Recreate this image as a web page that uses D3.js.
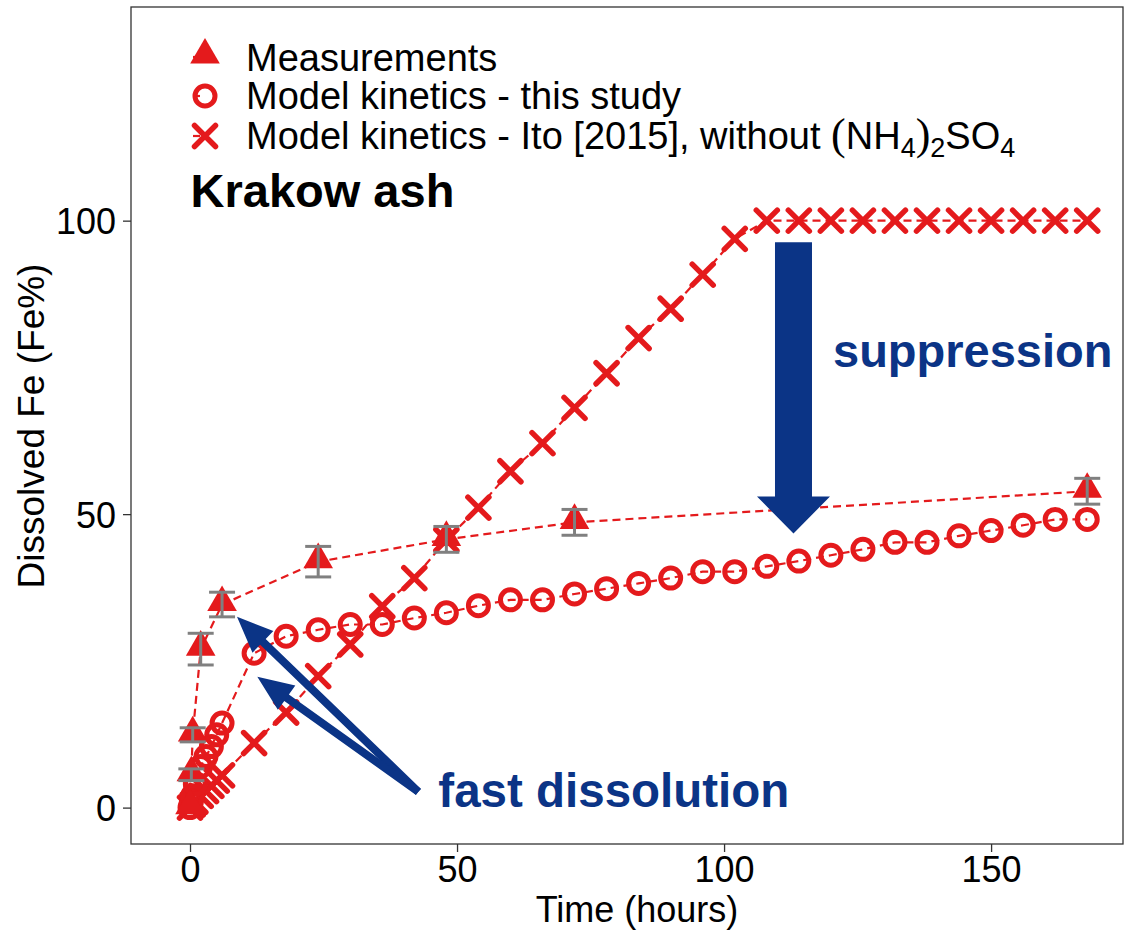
<!DOCTYPE html>
<html>
<head>
<meta charset="utf-8">
<script src="https://cdn.jsdelivr.net/npm/d3@7"></script>
<style>
  body { margin: 0; background: #fff; }
  text { font-family: "Liberation Sans", Arial, sans-serif; }
</style>
</head>
<body>
<div id="chart"></div>
<script>
// measurements (time in hours, dissolved Fe %, error)
var measTime = [0, 0.25, 0.5, 2, 6, 24, 48, 72, 168];
var measFe   = [0, 5.6, 12.4, 27, 34.6, 41.9, 45.7, 48.6, 53.9];
var measErr  = [0, 1.0, 1.2, 2.7, 2.1, 2.6, 2.2, 2.2, 2.2];

// model kinetics - this study
var modelTime = [0, 0.25, 0.5, 1, 2, 3, 4, 5, 6, 12, 18, 24, 30, 36, 42, 48, 54, 60, 66, 72, 78, 84, 90,
                 96, 102, 108, 114, 120, 126, 132, 138, 144, 150, 156, 162, 168];
var modelFe   = [0, 1, 2, 4, 7, 8.7, 10.4, 12.4, 14.4, 26.3, 29.2, 30.3, 31.2, 31.2, 32.3, 33.2, 34.4, 35.4, 35.4, 36.4,
                 37.3, 38.2, 39.1, 40.2, 40.2, 41.1, 42.0, 43.0, 44.0, 45.2, 45.2, 46.3, 47.2, 48.1, 49.1, 49.1];

// model kinetics - Ito [2015]
var itoTime = [0, 0.5, 1, 2, 3, 4, 5, 6, 12, 18, 24, 30, 36, 42, 48, 54, 60, 66, 72, 78, 84, 90, 96, 102,
               108, 114, 120, 126, 132, 138, 144, 150, 156, 162, 168];
var itoFe   = [0, 0.5, 1, 2, 2.8, 3.7, 4.6, 5.5, 11, 16.2, 22.4, 27.8, 34.3, 39.1, 45.6, 51.1, 57.3, 62.1, 68.1, 74, 80, 85, 90.8, 96.9,
               100, 100, 100, 100, 100, 100, 100, 100, 100, 100, 100];

var xTicks = [0, 50, 100, 150];
var yTicks = [0, 50, 100];

var red = "#e41a1c", navy = "#0b3486", grey = "#808080";
var W = 1124, H = 931;

var svg = d3.select("#chart").append("svg")
    .attr("width", W).attr("height", H);

// scales (domain chosen so the panel matches the original frame)
var x = d3.scaleLinear().domain([-11.05, 174.7]).range([131, 1123]);
var y = d3.scaleLinear().domain([-6.2, 136.4]).range([844, 7]);

var meas = measTime.map(function(t, i) { return {t: t, v: measFe[i], e: measErr[i]}; });
var model = modelTime.map(function(t, i) { return {t: t, v: modelFe[i]}; });
var ito = itoTime.map(function(t, i) { return {t: t, v: itoFe[i]}; });

var line = d3.line().x(function(d) { return x(d.t); }).y(function(d) { return y(d.v); });

// panel border
svg.append("rect")
    .attr("x", 131).attr("y", 7).attr("width", 992).attr("height", 837)
    .attr("fill", "none").attr("stroke", "#333").attr("stroke-width", 1.3);

// axes
var xAxis = svg.append("g").attr("transform", "translate(0,844)")
    .call(d3.axisBottom(x).tickValues(xTicks).tickSize(8).tickPadding(4));
var yAxis = svg.append("g").attr("transform", "translate(131,0)")
    .call(d3.axisLeft(y).tickValues(yTicks).tickSize(8).tickPadding(7));
[xAxis, yAxis].forEach(function(a) {
    a.select(".domain").remove();
    a.selectAll("line").attr("stroke", "#333").attr("stroke-width", 1.3);
    a.selectAll("text").attr("fill", "#000").style("font-size", "36px")
        .style("font-family", "'Liberation Sans', Arial, sans-serif");
});
xAxis.selectAll("text").attr("dy", "0.72em");
yAxis.selectAll("text").attr("dy", "0.36em");

svg.append("text")
    .attr("x", 637).attr("y", 922).attr("text-anchor", "middle")
    .style("font-size", "36px").text("Time (hours)");
svg.append("text")
    .attr("transform", "translate(44,426) rotate(-90)").attr("text-anchor", "middle")
    .style("font-size", "37px").text("Dissolved Fe (Fe%)");

// dashed lines
[ito, model, meas].forEach(function(data) {
    svg.append("path").datum(data)
        .attr("d", line)
        .attr("fill", "none").attr("stroke", red)
        .attr("stroke-width", 2.2).attr("stroke-dasharray", "8,5");
});

// Ito crosses
function crossPath(s) {
    return "M" + (-s) + "," + (-s) + "L" + s + "," + s + "M" + (-s) + "," + s + "L" + s + "," + (-s);
}
svg.append("g").selectAll("path").data(ito).enter().append("path")
    .attr("transform", function(d) { return "translate(" + x(d.t) + "," + y(d.v) + ")"; })
    .attr("d", crossPath(10.5))
    .attr("fill", "none").attr("stroke", red).attr("stroke-width", 5.5).attr("stroke-linecap", "round");

// model circles
svg.append("g").selectAll("circle").data(model).enter().append("circle")
    .attr("cx", function(d) { return x(d.t); }).attr("cy", function(d) { return y(d.v); })
    .attr("r", 10).attr("fill", "none").attr("stroke", red).attr("stroke-width", 5);

// measurement triangles
var tri = d3.symbol().type(d3.symbolTriangle).size(380);
svg.append("g").selectAll("path").data(meas).enter().append("path")
    .attr("transform", function(d) { return "translate(" + x(d.t) + "," + (y(d.v) - 2) + ")"; })
    .attr("d", tri).attr("fill", red);

// error bars
var eb = svg.append("g").selectAll("g").data(meas.filter(function(d) { return d.e > 0; }))
    .enter().append("g").attr("stroke", grey).attr("stroke-width", 3);
eb.append("line")
    .attr("x1", function(d) { return x(d.t); }).attr("x2", function(d) { return x(d.t); })
    .attr("y1", function(d) { return y(d.v - d.e); }).attr("y2", function(d) { return y(d.v + d.e); });
eb.append("line")
    .attr("x1", function(d) { return x(d.t) - 13; }).attr("x2", function(d) { return x(d.t) + 13; })
    .attr("y1", function(d) { return y(d.v + d.e); }).attr("y2", function(d) { return y(d.v + d.e); });
eb.append("line")
    .attr("x1", function(d) { return x(d.t) - 13; }).attr("x2", function(d) { return x(d.t) + 13; })
    .attr("y1", function(d) { return y(d.v - d.e); }).attr("y2", function(d) { return y(d.v - d.e); });

// arrows (thin "fast dissolution" arrows)
function arrowPoly(x0, y0, x1, y1, shaft, headW, headL) {
    var dx = x1 - x0, dy = y1 - y0, len = Math.sqrt(dx * dx + dy * dy);
    var ux = dx / len, uy = dy / len, px = -uy, py = ux;
    var bx = x1 - ux * headL, by = y1 - uy * headL;
    var pts = [
        [x0 + px * shaft / 2, y0 + py * shaft / 2],
        [bx + px * shaft / 2, by + py * shaft / 2],
        [bx + px * headW / 2, by + py * headW / 2],
        [x1, y1],
        [bx - px * headW / 2, by - py * headW / 2],
        [bx - px * shaft / 2, by - py * shaft / 2],
        [x0 - px * shaft / 2, y0 - py * shaft / 2]
    ];
    return pts.map(function(p) { return p.join(","); }).join(" ");
}
var fastTail = [42.75, 2.7], fastTips = [[8.8, 32.5], [12.6, 22.3]];
fastTips.forEach(function(tip) {
    svg.append("polygon")
        .attr("points", arrowPoly(x(fastTail[0]), y(fastTail[1]), x(tip[0]), y(tip[1]), 8, 30, 36))
        .attr("fill", navy);
});
// big suppression arrow
svg.append("polygon")
    .attr("points", arrowPoly(x(113), y(96.3), x(113), y(46.7), 37, 73, 37))
    .attr("fill", navy);

// annotations
svg.append("text").attr("x", x(120.4)).attr("y", y(75.1))
    .attr("fill", navy).style("font-size", "47px").style("font-weight", "bold").text("suppression");
svg.append("text").attr("x", x(46.5)).attr("y", y(0.1))
    .attr("fill", navy).style("font-size", "47.5px").style("font-weight", "bold").text("fast dissolution");
svg.append("text").attr("x", x(0.1)).attr("y", y(102.4))
    .attr("fill", "#000").style("font-size", "47px").style("font-weight", "bold").text("Krakow ash");

// legend
var legRows = [57, 96, 136];
var leg = svg.append("g");
legRows.forEach(function(ry) {
    leg.append("line").attr("x1", 193).attr("x2", 200).attr("y1", ry).attr("y2", ry)
        .attr("stroke", red).attr("stroke-width", 2.2);
});
leg.append("path").attr("transform", "translate(205," + (legRows[0] - 2) + ")").attr("d", tri).attr("fill", red);
leg.append("circle").attr("cx", 205).attr("cy", legRows[1]).attr("r", 10)
    .attr("fill", "none").attr("stroke", red).attr("stroke-width", 5);
leg.append("path").attr("transform", "translate(205," + legRows[2] + ")").attr("d", crossPath(10.5))
    .attr("fill", "none").attr("stroke", red).attr("stroke-width", 5.5).attr("stroke-linecap", "round");

leg.append("text").attr("x", 246).attr("y", legRows[0] + 14).style("font-size", "38px").text("Measurements");
leg.append("text").attr("x", 246).attr("y", legRows[1] + 13).style("font-size", "38px").text("Model kinetics - this study");
var t3 = leg.append("text").attr("x", 246).attr("y", legRows[2] + 13).style("font-size", "38px");
t3.append("tspan").text("Model kinetics - Ito [2015], without ");
t3.append("tspan").style("font-family", "'Liberation Serif', serif").style("font-size", "44px").text("(");
t3.append("tspan").text("NH");
t3.append("tspan").attr("dy", 8).style("font-size", "27px").text("4");
t3.append("tspan").attr("dy", -8).style("font-family", "'Liberation Serif', serif").style("font-size", "44px").text(")");
t3.append("tspan").attr("dy", 8).style("font-size", "27px").text("2");
t3.append("tspan").attr("dy", -8).text("SO");
t3.append("tspan").attr("dy", 8).style("font-size", "27px").text("4");
</script>
</body>
</html>
